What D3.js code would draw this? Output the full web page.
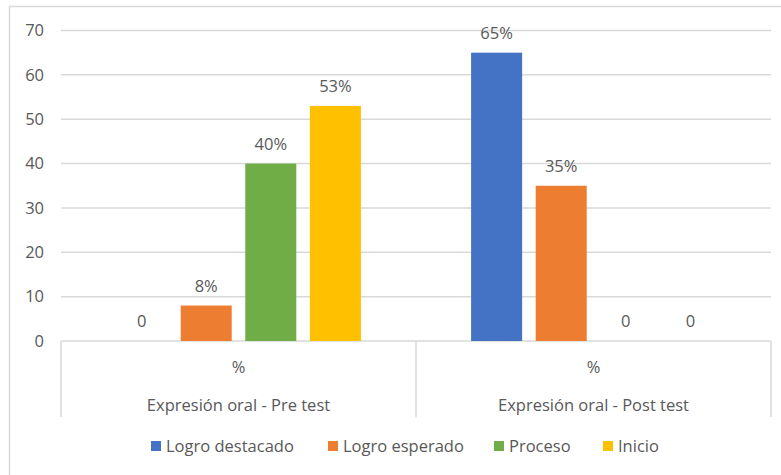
<!DOCTYPE html>
<html>
<head>
<meta charset="utf-8">
<script src="https://cdn.jsdelivr.net/npm/d3@7"></script>
<style>
  body { margin: 0; background: #fff; }
  text { font-family: "Open Sans", "Noto Sans", sans-serif; fill: #595959; }
</style>
</head>
<body>
<div id="chart"></div>
<script>
// data
var groups = ["Expresión oral - Pre test", "Expresión oral - Post test"];
var subLabels = ["%", "%"];
var series = ["Logro destacado", "Logro esperado", "Proceso", "Inicio"];
var preValues = [0, 8, 40, 53];
var postValues = [65, 35, 0, 0];
var preLabels = ["0", "8%", "40%", "53%"];
var postLabels = ["65%", "35%", "0", "0"];
var yTicks = [0, 10, 20, 30, 40, 50, 60, 70];

var colors = ["#4472C4", "#ED7D31", "#70AD47", "#FFC000"];

var W = 781, H = 475;
var plotLeft = 61, plotRight = 771, plotTop = 30.5, plotBottom = 341;
var fs = "16.5px";

var svg = d3.select("#chart")
  .append("svg")
    .attr("width", W)
    .attr("height", H);

// outer frame
svg.append("rect")
  .attr("x", 9.5).attr("y", 6.5)
  .attr("width", W + 10).attr("height", H + 10)
  .attr("fill", "none")
  .attr("stroke", "#d9d9d9")
  .attr("stroke-width", 1.5);

var y = d3.scaleLinear()
  .domain([0, 70])
  .range([plotBottom, plotTop]);

var x0 = d3.scaleBand()
  .domain(groups)
  .range([plotLeft, plotRight])
  .padding(0);

var x1 = d3.scaleBand()
  .domain(series)
  .range([0, x0.bandwidth()])
  .paddingInner(0.21)
  .paddingOuter(0.853);

// gridlines
svg.append("g")
  .selectAll("line")
  .data(yTicks.filter(function(d) { return d > 0; }))
  .enter()
  .append("line")
    .attr("x1", plotLeft).attr("x2", plotRight)
    .attr("y1", function(d) { return y(d); })
    .attr("y2", function(d) { return y(d); })
    .attr("stroke", "#d9d9d9")
    .attr("stroke-width", 1.5);

// y axis labels
var yAxis = svg.append("g")
  .attr("transform", "translate(" + plotLeft + ",0)")
  .call(d3.axisLeft(y).tickValues(yTicks).tickSize(0).tickPadding(17));
yAxis.select(".domain").remove();
yAxis.selectAll("text")
  .style("font-size", fs)
  .style("font-family", "'Open Sans', sans-serif")
  .attr("fill", "#595959");

// category axis: baseline and separators
var catAxis = svg.append("g");
catAxis.append("line")
  .attr("x1", plotLeft).attr("x2", plotRight)
  .attr("y1", plotBottom).attr("y2", plotBottom)
  .attr("stroke", "#d9d9d9").attr("stroke-width", 1.5);
catAxis.selectAll(".sep")
  .data([plotLeft, x0(groups[1]), plotRight])
  .enter()
  .append("line")
    .attr("x1", function(d) { return d; })
    .attr("x2", function(d) { return d; })
    .attr("y1", plotBottom).attr("y2", 417)
    .attr("stroke", "#d9d9d9").attr("stroke-width", 1.5);

catAxis.selectAll(".sub")
  .data(groups)
  .enter()
  .append("text")
    .attr("x", function(d) { return x0(d) + x0.bandwidth() / 2; })
    .attr("y", 373)
    .attr("text-anchor", "middle")
    .style("font-size", fs)
    .text(function(d, i) { return subLabels[i]; });

catAxis.selectAll(".grp")
  .data(groups)
  .enter()
  .append("text")
    .attr("x", function(d) { return x0(d) + x0.bandwidth() / 2; })
    .attr("y", 411)
    .attr("text-anchor", "middle")
    .style("font-size", fs)
    .text(function(d) { return d; });

// bars
var rows = [
  {group: groups[0], values: preValues, labels: preLabels},
  {group: groups[1], values: postValues, labels: postLabels}
];

rows.forEach(function(r) {
  var g = svg.append("g")
    .attr("transform", "translate(" + x0(r.group) + ",0)");

  g.selectAll("rect")
    .data(series)
    .enter()
    .append("rect")
      .attr("x", function(d) { return x1(d); })
      .attr("y", function(d, i) { return y(r.values[i]); })
      .attr("width", x1.bandwidth())
      .attr("height", function(d, i) { return plotBottom - y(r.values[i]); })
      .attr("fill", function(d, i) { return colors[i]; });

  g.selectAll("text")
    .data(series)
    .enter()
    .append("text")
      .attr("x", function(d) { return x1(d) + x1.bandwidth() / 2; })
      .attr("y", function(d, i) { return y(r.values[i]) - 14; })
      .attr("text-anchor", "middle")
      .style("font-size", fs)
      .text(function(d, i) { return r.labels[i]; });
});

// legend
var legend = svg.append("g").attr("transform", "translate(0,446)");
var lx = [151, 328, 494, 603];
series.forEach(function(s, i) {
  legend.append("rect")
    .attr("x", lx[i]).attr("y", -5)
    .attr("width", 10).attr("height", 10)
    .attr("fill", colors[i]);
  legend.append("text")
    .attr("x", lx[i] + 15)
    .attr("y", 6)
    .style("font-size", fs)
    .text(s);
});
</script>
</body>
</html>
